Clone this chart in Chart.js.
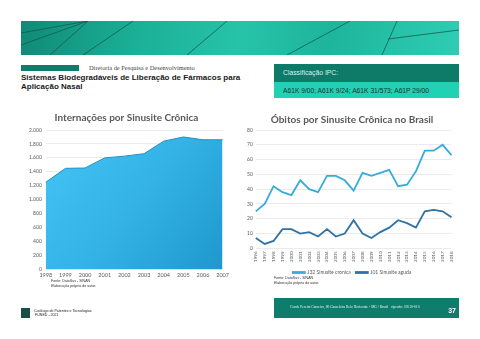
<!DOCTYPE html>
<html>
<head>
<meta charset="utf-8">
<script src="https://cdn.jsdelivr.net/npm/chart.js@4.4.0/dist/chart.umd.min.js"></script>
<style>
  html, body { margin: 0; padding: 0; background: #fff; }
  body { width: 480px; height: 339px; position: relative; overflow: hidden; font-family: "Liberation Sans", Arial, sans-serif; }
  .abs { position: absolute; }
  #banner { left: 21px; top: 21px; width: 438px; height: 34px;
    background: linear-gradient(100deg, #0f8a76 0%, #1aae95 25%, #27c3a9 50%, #1db59c 70%, #2fcdb3 100%); }
  #bar { left: 21px; top: 65px; width: 58px; height: 6px; background: #0f7d6b; }
  #dir { left: 89px; top: 64px; font: 6.4px "Liberation Serif", serif; color: #444; white-space: nowrap; }
  #title { left: 21px; top: 73px; font: bold 8px "Liberation Sans", Arial, sans-serif; color: #1a1a1a; line-height: 9.2px; white-space: nowrap; }
  #ipcHead { left: 274px; top: 64px; width: 185px; height: 18px; background: #0e7a68; }
  #ipcBody { left: 274px; top: 82px; width: 185px; height: 16px; background: #21d1b4; }
  #ipcHead span { position: absolute; left: 9px; top: 5px; font: 6.8px "Liberation Sans", Arial, sans-serif; color: #d8f3ee; }
  #ipcBody span { position: absolute; left: 9px; top: 4.5px; font: 6.7px "Liberation Sans", Arial, sans-serif; color: #17332d; white-space: nowrap; }
  .src { font: 3.6px "Liberation Sans", Arial, sans-serif; color: #333; line-height: 4.8px; white-space: nowrap; }
  #foot { left: 274px; top: 298px; width: 185px; height: 20px; background: #0e7d6c; }
  #foot .addr { position: absolute; left: 16px; top: 7px; font: 3.6px "Liberation Serif", serif; color: #e6f5f2; white-space: nowrap; }
  #foot .pg { position: absolute; right: 3px; top: 9px; font: bold 7px "Liberation Sans", Arial, sans-serif; color: #fff; }
  #logo { left: 21px; top: 308px; width: 9px; height: 10px; background: #174f45; }
  #cat { left: 34px; top: 309px; font: 3.6px "Liberation Sans", Arial, sans-serif; color: #222; line-height: 4.4px; white-space: nowrap; }
</style>
</head>
<body>
<div id="banner" class="abs">
  <svg width="438" height="34" style="position:absolute;left:0;top:0">
    <g stroke="#145c50" stroke-width="0.8" fill="none">
      <line x1="0" y1="12" x2="67" y2="0"/>
      <line x1="0" y1="24" x2="67" y2="0"/>
      <line x1="29" y1="34" x2="67" y2="0"/>
      <line x1="62" y1="34" x2="112" y2="0"/>
      <line x1="166" y1="34" x2="206" y2="0"/>
      <line x1="266" y1="34" x2="329" y2="0"/>
      <line x1="361" y1="34" x2="376" y2="0"/>
      <line x1="367" y1="18" x2="438" y2="9"/>
    </g>
  </svg>
</div>
<div id="bar" class="abs"></div>
<div id="dir" class="abs">Diretoria de Pesquisa e Desenvolvimento</div>
<div id="title" class="abs">Sistemas Biodegradáveis de Liberação de Fármacos para<br>Aplicação Nasal</div>
<div id="ipcHead" class="abs"><span>Classificação IPC:</span></div>
<div id="ipcBody" class="abs"><span>A61K 9/00; A61K 9/24; A61K 31/573; A61P 29/00</span></div>

<div class="abs" style="left:25px;top:110px;width:207px;height:172px"><canvas id="chartInt"></canvas></div>
<div class="abs src" style="left:51px;top:279px">Fonte: DataSus - SINAN<br>Elaboração própria do autor.</div>

<div class="abs" style="left:244px;top:111px;width:216px;height:174px"><canvas id="chartObi"></canvas></div>
<div class="abs src" style="left:274px;top:276px">Fonte: DataSus - SINAN<br>Elaboração própria do autor.</div>

<div id="foot" class="abs"><span class="addr">Conde Pereira Carneiro, 80 Gameleira Belo Horizonte - MG / Brasil &nbsp; cipesdo: 30510-010</span><span class="pg">37</span></div>
<div id="logo" class="abs"></div>
<div id="cat" class="abs">Catálogo de Patentes e Tecnologias<br>&nbsp;FUNED - 2021</div>

<script>
// Internações por Sinusite Crônica
const anosInt = ['1998', '1999', '2000', '2001', '2002', '2003', '2004', '2005', '2006', '2007'];
const internacoes = [1250, 1450, 1455, 1600, 1625, 1660, 1840, 1900, 1860, 1860];

// Óbitos por Sinusite Crônica no Brasil
const anosObi = ['1996', '1997', '1998', '1999', '2000', '2001', '2002', '2003', '2004', '2005', '2006', '2007',
  '2008', '2009', '2010', '2011', '2012', '2013', '2014', '2015', '2016', '2017', '2018'];
const j32Cronica = [25, 30, 42, 38, 36, 46, 40, 38, 49, 49, 46, 39, 51, 49, 51, 53, 42, 43, 52, 66, 66, 70, 63];
const j01Aguda = [7, 3, 5, 13, 13, 10, 11, 8, 13, 8, 10, 19, 10, 7, 11, 14, 19, 17, 14, 25, 26, 25, 21];

const fontFam = 'Lato, "DejaVu Sans", sans-serif';
const tickGray = '#595959';

Chart.defaults.font.family = fontFam;
Chart.defaults.color = tickGray;

new Chart(document.getElementById('chartInt'), {
  type: 'line',
  data: {
    labels: anosInt,
    datasets: [{
      label: 'Internações',
      data: internacoes,
      fill: 'origin',
      borderColor: '#2a8ec0',
      borderWidth: 1,
      pointRadius: 0,
      tension: 0,
      backgroundColor: function (ctx) {
        const area = ctx.chart.chartArea;
        if (!area) return '#35b6ea';
        const g = ctx.chart.ctx.createLinearGradient(area.left, area.top, area.right, area.bottom);
        g.addColorStop(0, '#43c6f6');
        g.addColorStop(0.5, '#34b3e6');
        g.addColorStop(1, '#1f98cc');
        return g;
      }
    }]
  },
  options: {
    responsive: true,
    maintainAspectRatio: false,
    animation: false,
    layout: { padding: { left: 0, right: 4, top: 0, bottom: 0 } },
    plugins: {
      legend: { display: false },
      title: {
        display: true,
        text: 'Internações por Sinusite Crônica',
        color: '#595959',
        font: { size: 10, weight: 'bold', family: fontFam },
        padding: { top: 2, bottom: 6 }
      }
    },
    scales: {
      x: {
        offset: false,
        grid: { display: false, drawTicks: false },
        border: { display: false },
        ticks: { font: { size: 5.5 }, color: tickGray, maxRotation: 0, padding: 3 }
      },
      y: {
        min: 0,
        max: 2000,
        grid: { color: '#dedede', lineWidth: 0.6, drawTicks: false },
        border: { display: false },
        ticks: {
          stepSize: 200,
          font: { size: 5 },
          color: tickGray,
          padding: 4,
          callback: v => v.toString().replace(/\B(?=(\d{3})+(?!\d))/g, '.')
        }
      }
    }
  }
});

new Chart(document.getElementById('chartObi'), {
  type: 'line',
  data: {
    labels: anosObi,
    datasets: [{
      label: 'J32 Sinusite cronica',
      data: j32Cronica,
      borderColor: '#37abd9',
      backgroundColor: '#37abd9',
      borderWidth: 1.8,
      pointRadius: 0,
      tension: 0
    }, {
      label: 'J01 Sinusite aguda',
      data: j01Aguda,
      borderColor: '#2f72a3',
      backgroundColor: '#2f72a3',
      borderWidth: 1.8,
      pointRadius: 0,
      tension: 0
    }]
  },
  options: {
    responsive: true,
    maintainAspectRatio: false,
    animation: false,
    layout: { padding: { left: 0, right: 0, top: 0, bottom: 0 } },
    plugins: {
      legend: {
        position: 'bottom',
        labels: {
          font: { size: 5 },
          color: tickGray,
          boxWidth: 12,
          boxHeight: 1,
          padding: 5
        }
      },
      title: {
        display: true,
        text: 'Óbitos por Sinusite Crônica no Brasil',
        color: '#595959',
        font: { size: 10, weight: 'bold', family: fontFam },
        padding: { top: 3, bottom: 4 }
      }
    },
    scales: {
      x: {
        offset: false,
        grid: { display: false, drawTicks: false },
        border: { display: false },
        ticks: { font: { size: 4.6 }, color: tickGray, minRotation: 90, maxRotation: 90, autoSkip: false, padding: 3 }
      },
      y: {
        min: 0,
        max: 80,
        grid: { color: '#dedede', lineWidth: 0.6, drawTicks: false },
        border: { display: false },
        ticks: { stepSize: 10, font: { size: 5 }, color: tickGray, padding: 3 }
      }
    }
  }
});
</script>
</body>
</html>
